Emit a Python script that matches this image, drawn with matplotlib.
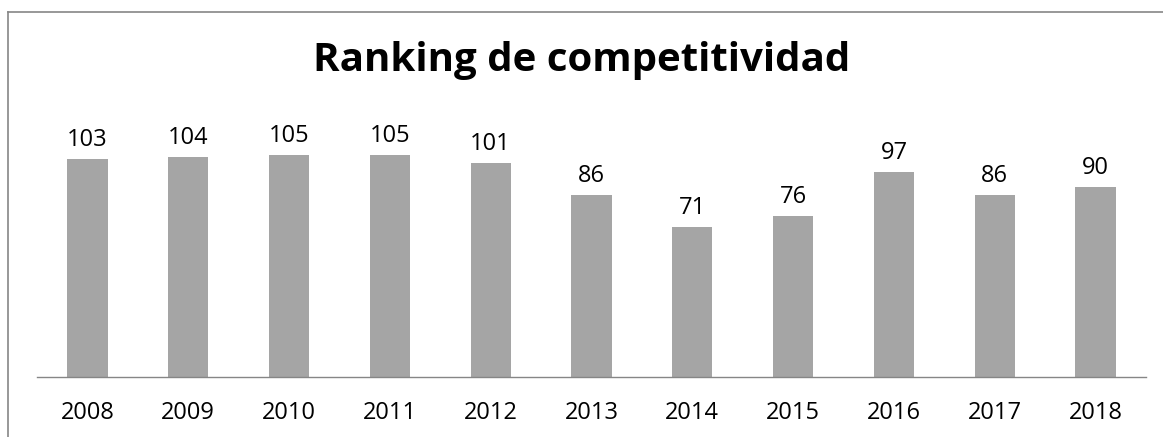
"""
Ranking de competitividad, bar chart per year (Excel-like style)
"""

import matplotlib
matplotlib.use("Agg")
import matplotlib.pyplot as plt
from matplotlib.lines import Line2D
import numpy as np

years = ["2008", "2009", "2010", "2011", "2012", "2013", "2014", "2015", "2016", "2017", "2018"]
ranking = [103, 104, 105, 105, 101, 86, 71, 76, 97, 86, 90]
title = "Ranking de competitividad"

plt.rcParams["font.family"] = ["Open Sans", "DejaVu Sans"]

W, H = 1163, 437
fig = plt.figure(figsize=(W / 100, H / 100), dpi=100)

# plot area in pixel terms: x 37..1146, baseline at y=377, ylim 0..120 -> top at 123
ax = fig.add_axes([37 / W, (H - 377) / H, (1146 - 37) / W, (377 - 123) / H])

x = np.arange(len(years))
bars = ax.bar(x, ranking, width=0.4, color="#A5A5A5")
ax.bar_label(bars, labels=[str(v) for v in ranking], padding=5, fontsize=17, color="#000000")

ax.set_xlim(-0.5, len(years) - 0.5)
ax.set_ylim(0, 120)
ax.set_xticks(x)
ax.set_xticklabels(years, fontsize=17)
ax.tick_params(axis="x", length=0, pad=17.5)
ax.set_yticks([])
for side in ["top", "left", "right"]:
    ax.spines[side].set_visible(False)
ax.spines["bottom"].set_color("#868686")
ax.spines["bottom"].set_linewidth(1.0)

fig.text(0.5, 1 - 61 / H, title, ha="center", va="center", fontsize=29, fontweight="bold")

# chart border (only top and left edges visible)
fig.add_artist(Line2D([7.5 / W, 1], [1 - 11.5 / H, 1 - 11.5 / H], transform=fig.transFigure,
                      color="#868686", linewidth=1.2))
fig.add_artist(Line2D([7.5 / W, 7.5 / W], [0, 1 - 11.5 / H], transform=fig.transFigure,
                      color="#868686", linewidth=1.2))

fig.savefig("out.png", dpi=100)
